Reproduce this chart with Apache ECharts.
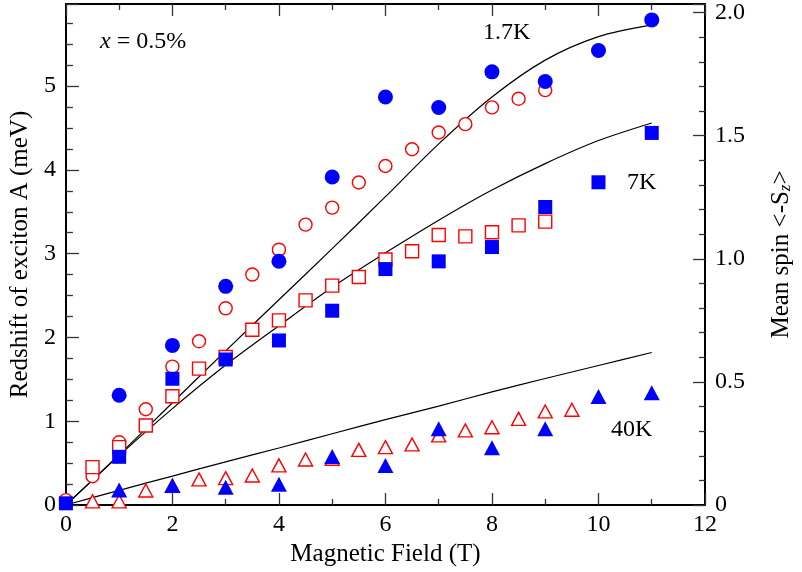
<!DOCTYPE html>
<html>
<head>
<meta charset="utf-8">
<script src="https://cdn.jsdelivr.net/npm/echarts@6/dist/echarts.min.js"></script>
<style>
html,body{margin:0;padding:0;background:#fff;}
#chart{width:802px;height:572px;}
</style>
</head>
<body>
<div id="chart"></div>
<script>
// ---- Data ----
// Magnetic field values (T)
const fieldInt1 = [1,2,3,4,5,6,7,8,9,10,11];
const fieldInt0 = [0,1,2,3,4,5,6,7,8,9,10,11];
const fieldHalf0to9 = [0,0.5,1,1.5,2,2.5,3,3.5,4,4.5,5,5.5,6,6.5,7,7.5,8,8.5,9];
const fieldHalf05to9 = [0.5,1,1.5,2,2.5,3,3.5,4,4.5,5,5.5,6,6.5,7,7.5,8,8.5,9];
const fieldHalf05to95 = [0.5,1,1.5,2,2.5,3,3.5,4,4.5,5,5.5,6,6.5,7,7.5,8,8.5,9,9.5];

// Redshift of exciton A (meV) – filled blue symbols (left axis)
const shift17K = [1.31,1.905,2.61,2.91,3.915,4.87,4.745,5.17,5.055,5.425,5.79];
const shift7K  = [0.02,0.575,1.507,1.737,1.964,2.319,2.816,2.908,3.079,3.557,3.852,4.441];
const shift40K = [0.18,0.232,0.211,0.247,0.578,0.471,0.909,0.682,0.909,1.295,1.339];

// Mean spin <-Sz> – open red symbols (right axis)
const spin17K = [0.02,0.117,0.255,0.389,0.562,0.665,0.799,0.936,1.037,1.139,1.208,1.31,1.377,1.445,1.513,1.547,1.615,1.65,1.685];
const spin7K  = [0.154,0.235,0.323,0.442,0.554,0.601,0.712,0.75,0.831,0.891,0.926,0.997,1.031,1.097,1.091,1.108,1.136,1.151];
const spin40K = [0.015,0.015,0.059,0.079,0.104,0.109,0.12,0.161,0.185,0.188,0.224,0.235,0.246,0.283,0.303,0.316,0.35,0.38,0.387];

// Theory curves (left axis, meV)
const fit17K = [0,0.6,1.22,1.84,2.45,3.06,3.68,4.31,4.87,5.31,5.59,5.73];
const fit7K  = [0,0.59,1.15,1.67,2.14,2.6,3.01,3.40,3.76,4.075,4.35,4.56];
const fit40K = [0,0.175,0.345,0.515,0.68,0.85,1.02,1.18,1.35,1.51,1.665,1.82];

// Axis ranges / ticks
const xMin = 0, xMax = 12, xStep = 2;
const yLeftMin = 0, yLeftMax = 5.98, yLeftStep = 1;
const yRightMin = 0, yRightMax = 2.035, yRightStep = 0.5;

// Labels
const xTitle = 'Magnetic Field (T)';
const yLeftTitle = 'Redshift of exciton A (meV)';
const curveLabels = ['1.7K', '7K', '40K'];

// ---- Chart ----
const FONT = 'Liberation Serif';
const BLUE = '#0000ff', RED = '#ff0000';
const pair = (xs, ys) => xs.map((x, i) => [x, ys[i]]);

const chart = echarts.init(document.getElementById('chart'), null, {renderer: 'canvas'});

const tickStyle = {color: '#333', width: 1.3};
const axisLineStyle = {color: '#000', width: 2};

function lineSeries(data) {
  return {type: 'line', data: data, xAxisIndex: 0, yAxisIndex: 0, showSymbol: false, symbol: 'none',
    smooth: 0.3, lineStyle: {color: '#000', width: 1.2}, z: 2, silent: true};
}
function scatter(data, yIdx, symbol, size, filled, color) {
  return {type: 'scatter', data: data, xAxisIndex: 0, yAxisIndex: yIdx, symbol: symbol, symbolSize: size,
    itemStyle: filled ? {color: color, opacity: 1} : {color: '#fff', borderColor: color, borderWidth: 1.4, opacity: 1},
    z: filled ? 4 : 3};
}

const option = {
  animation: false,
  backgroundColor: '#fff',
  grid: {left: 63, right: 96, top: 4, bottom: 67, containLabel: false},
  xAxis: [
    {type: 'value', position: 'bottom', min: xMin, max: xMax, interval: xStep,
     axisLine: {show: true, onZero: false, lineStyle: axisLineStyle},
     axisTick: {show: true, inside: true, length: 12, lineStyle: tickStyle},
     minorTick: {show: true, splitNumber: 2, length: 6, lineStyle: tickStyle},
     axisLabel: {color: '#000', fontFamily: FONT, fontSize: 24, margin: 8},
     splitLine: {show: false},
     name: xTitle, nameLocation: 'middle', nameGap: 35,
     nameTextStyle: {color: '#000', fontFamily: FONT, fontSize: 25}},
    {type: 'value', position: 'top', min: xMin, max: xMax, interval: xStep,
     axisLine: {show: true, onZero: false, lineStyle: axisLineStyle},
     axisTick: {show: true, inside: true, length: 12, lineStyle: tickStyle},
     minorTick: {show: true, splitNumber: 2, length: 6, lineStyle: tickStyle},
     axisLabel: {show: false}, splitLine: {show: false}}
  ],
  yAxis: [
    {type: 'value', position: 'left', min: yLeftMin, max: yLeftMax, interval: yLeftStep,
     axisLine: {show: true, onZero: false, lineStyle: axisLineStyle},
     axisTick: {show: true, inside: true, length: 13, lineStyle: tickStyle},
     minorTick: {show: true, splitNumber: 4, length: 7, lineStyle: tickStyle},
     axisLabel: {color: '#000', fontFamily: FONT, fontSize: 24, margin: 10,
       formatter: v => (Math.abs(v - Math.round(v)) < 1e-6 ? String(Math.round(v)) : '')},
     splitLine: {show: false},
     name: yLeftTitle, nameLocation: 'middle', nameRotate: 90, nameGap: 29,
     nameTextStyle: {color: '#000', fontFamily: FONT, fontSize: 25}},
    {type: 'value', position: 'right', min: yRightMin, max: yRightMax, interval: yRightStep,
     axisLine: {show: true, onZero: false, lineStyle: axisLineStyle},
     axisTick: {show: true, inside: true, length: 12, lineStyle: tickStyle},
     minorTick: {show: true, splitNumber: 5, length: 6, lineStyle: tickStyle},
     axisLabel: {color: '#000', fontFamily: FONT, fontSize: 24, margin: 10,
       formatter: v => {
         const k = Math.round(v / 0.5);
         if (Math.abs(v - k * 0.5) > 1e-6) return '';
         return v === 0 ? '0' : v.toFixed(1);
       }},
     splitLine: {show: false},
     name: '{a|Mean spin <-S}{z|z}{a|>}', nameLocation: 'middle', nameRotate: 90, nameGap: 64,
     nameTextStyle: {color: '#000', fontFamily: FONT, fontSize: 25,
       rich: {
         a: {fontFamily: FONT, fontSize: 25, lineHeight: 25, color: '#000'},
         z: {fontFamily: FONT, fontSize: 17, fontStyle: 'italic', lineHeight: 17, color: '#000',
             padding: [16, 0, 0, 0], verticalAlign: 'bottom'}
       }}}
  ],
  series: [
    lineSeries(pair(fieldInt0, fit17K)),
    lineSeries(pair(fieldInt0, fit7K)),
    lineSeries(pair(fieldInt0, fit40K)),
    scatter(pair(fieldHalf0to9, spin17K), 1, 'circle', 13, false, RED),
    scatter(pair(fieldHalf05to9, spin7K), 1, 'rect', 13, false, RED),
    scatter(pair(fieldHalf05to95, spin40K), 1, 'triangle', [14, 13], false, RED),
    scatter(pair(fieldInt1, shift17K), 0, 'circle', 15, true, BLUE),
    scatter(pair(fieldInt0, shift7K), 0, 'rect', 14, true, BLUE),
    scatter(pair(fieldInt1, shift40K), 0, 'triangle', [16, 15], true, BLUE)
  ],
  graphic: [
    {type: 'text', left: 100, top: 30, z: 10,
     style: {text: '{i|x} = 0.5%', fontFamily: FONT, fontSize: 24, fill: '#000',
       rich: {i: {fontFamily: FONT, fontSize: 24, fontStyle: 'italic', fill: '#000'}}}},
    {type: 'text', left: 483, top: 21, z: 10,
     style: {text: curveLabels[0], fontFamily: FONT, fontSize: 24, fill: '#000'}},
    {type: 'text', left: 627, top: 171, z: 10,
     style: {text: curveLabels[1], fontFamily: FONT, fontSize: 24, fill: '#000'}},
    {type: 'text', left: 611, top: 418, z: 10,
     style: {text: curveLabels[2], fontFamily: FONT, fontSize: 24, fill: '#000'}}
  ]
};
chart.setOption(option);
</script>
</body>
</html>
